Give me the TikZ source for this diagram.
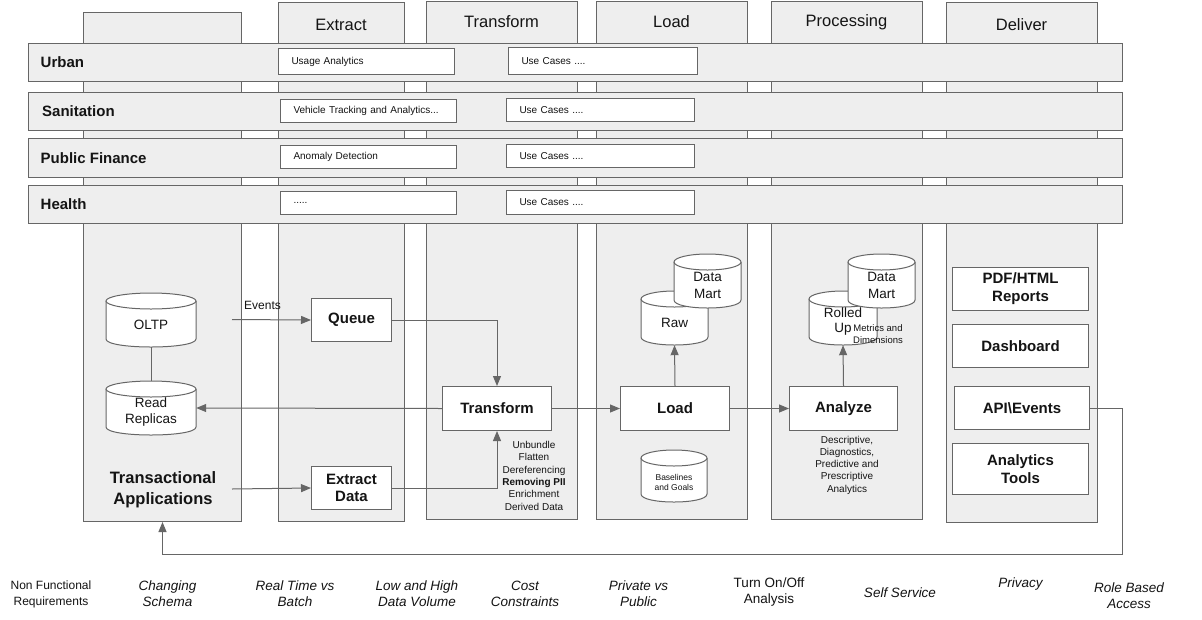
\documentclass[tikz,border=0pt]{standalone}
\usepackage{fontspec}
\setmainfont{Liberation Sans}
\usetikzlibrary{arrows.meta}
\definecolor{lineC}{RGB}{102,102,102}
\definecolor{fillC}{RGB}{238,238,238}
\definecolor{txtC}{RGB}{20,20,20}
\newcommand\fsz[2]{\fontsize{#1}{#2}\selectfont}
% cylinder: name, x1, y1, x2, y2
\newcommand\dbcyl[5]{%
  \pgfmathsetmacro\cyx{(#2+#4)/2}%
  \pgfmathsetmacro\cyy{(#3+#5)/2}%
  \pgfmathsetmacro\cyw{#4-#2}%
  \pgfmathsetmacro\cyh{#5-#3}%
  \pgfmathsetmacro\cyr{(#4-#2)/2}%
  \path[fill=white] (#2,#3+8) -- (#2,#5-8) .. controls (#2,#5+2.67) and (#4,#5+2.67) .. (#4,#5-8) -- (#4,#3+8) -- cycle;
  \node[cylnode, minimum width=\cyw pt, minimum height=\cyh pt] (#1) at (\cyx,\cyy) {};
  \draw[line width=1pt, draw=lineC] (#2,#3+8) -- (#2,#5-8) .. controls (#2,#5+2.67) and (#4,#5+2.67) .. (#4,#5-8) -- (#4,#3+8);
  \draw[line width=1pt, draw=lineC, fill=white] (\cyx,#3+8) ellipse [x radius=\cyr pt, y radius=8pt];
}
\begin{document}
\begin{tikzpicture}[x=1pt,y=-1pt,
  colbox/.style={draw=lineC, fill=fillC, line width=1pt, anchor=north west, inner sep=0pt},
  rowbox/.style={draw=lineC, fill=fillC, line width=1pt, anchor=north west, inner sep=0pt},
  hdr/.style={text=txtC, font=\fsz{16.5}{20}},
  rowlbl/.style={text=txtC, font=\fsz{15}{18}\bfseries, anchor=west, inner sep=0pt},
  ubox/.style={draw=lineC, fill=white, line width=1pt, anchor=north west, inner xsep=13pt, inner ysep=0pt, align=left, text=txtC, font=\fsz{10}{12}},
  proc/.style={draw=lineC, fill=white, line width=1pt, anchor=north west, inner sep=0pt, align=center, text=txtC, font=\fsz{15}{17.5}\bfseries},
  cylnode/.style={draw=none, inner sep=0pt},
  cyltxt/.style={text=txtC, font=\fsz{13.5}{16}, align=center, inner sep=0pt},
  note/.style={text=txtC, font=\fsz{10}{12.3}, align=center, inner sep=0pt},
  nfr/.style={text=txtC, font=\fsz{13.5}{16}\itshape, align=center, inner sep=0pt},
  arr/.style={draw=lineC, line width=1pt, -{Triangle[length=10pt,width=8pt]}},
  ln/.style={draw=lineC, line width=1pt}
]
\useasboundingbox (0,0) rectangle (1202,619);
\fill[white] (0,0) rectangle (1202,619);

% columns
\node[colbox, minimum width=158pt, minimum height=509pt] (col0) at (83,12) {};
\node[colbox, minimum width=126pt, minimum height=519pt] (colext) at (278,2) {};
\node[colbox, minimum width=151pt, minimum height=518.5pt] (coltr) at (426,0.5) {};
\node[colbox, minimum width=151pt, minimum height=518.5pt] (colld) at (596,0.5) {};
\node[colbox, minimum width=151pt, minimum height=518.5pt] (colpr) at (771,0.5) {};
\node[colbox, minimum width=151pt, minimum height=520pt] (coldl) at (946,2) {};
\node[hdr] (hext) at (341,25) {Extract};
\node[hdr] (htr) at (501.5,22) {Transform};
\node[hdr] (hld) at (671.5,22) {Load};
\node[hdr] (hpr) at (846.5,22) {Processing};
\node[hdr] (hdl) at (1021.5,25) {Deliver};

% rows
\node[rowbox, minimum width=1094pt, minimum height=38pt] (rurb) at (28,43) {};
\node[rowbox, minimum width=1094pt, minimum height=38pt] (rsan) at (28,92) {};
\node[rowbox, minimum width=1094pt, minimum height=39pt] (rpf) at (28,138) {};
\node[rowbox, minimum width=1094pt, minimum height=38pt] (rhl) at (28,185) {};
\node[rowlbl] (lurb) at (40.5,62) {Urban};
\node[rowlbl] (lsan) at (42,111) {Sanitation};
\node[rowlbl] (lpf) at (40.5,158) {Public Finance};
\node[rowlbl] (lhl) at (40.5,204) {Health};

\node[ubox, minimum width=176pt, minimum height=26pt, text width=150pt] (u1) at (278,48) {Usage Analytics};
\node[ubox, minimum width=176pt, minimum height=23pt, text width=150pt] (u2) at (280,99) {Vehicle Tracking and Analytics...};
\node[ubox, minimum width=176pt, minimum height=23pt, text width=150pt] (u3) at (280,145) {Anomaly Detection};
\node[ubox, minimum width=176pt, minimum height=23pt, text width=150pt] (u4) at (280,191) {.....};
\node[ubox, minimum width=189pt, minimum height=27pt, text width=163pt] (c1) at (508,47) {Use Cases ....};
\node[ubox, minimum width=188pt, minimum height=23pt, text width=162pt] (c2) at (506,98) {Use Cases ....};
\node[ubox, minimum width=188pt, minimum height=23pt, text width=162pt] (c3) at (506,144) {Use Cases ....};
\node[ubox, minimum width=188pt, minimum height=24pt, text width=162pt] (c4) at (506,190) {Use Cases ....};

% cylinders
\dbcyl{oltp}{106}{293}{196}{347}
\dbcyl{rr}{106}{381}{196}{435}
\dbcyl{raw}{641}{291}{708}{345}
\dbcyl{dm1}{674}{254}{741}{308}
\dbcyl{bg}{641}{450}{707}{502}
\dbcyl{ru}{809}{291}{877}{345}
\dbcyl{dm2}{848}{254}{915}{308}
\node[cyltxt] (oltpt) at (151,325) {OLTP};
\node[cyltxt] (rrt) at (151,412) {Read\\Replicas};
\node[cyltxt] (rawt) at (674.5,323) {Raw};
\node[cyltxt, font=\fsz{13.5}{16.7}] (dm1t) at (707.5,285.5) {Data\\Mart};
\node[cyltxt, font=\fsz{8.5}{10}] (bgt) at (674,482) {Baselines\\and Goals};
\node[cyltxt, font=\fsz{13.5}{15.5}] (rut) at (843,321.5) {Rolled\\Up};
\node[cyltxt, font=\fsz{13.5}{16.7}] (dm2t) at (881.5,285.5) {Data\\Mart};
\node[note, font=\fsz{9.5}{12}] (metr) at (878,334) {Metrics and\\Dimensions};

% process boxes
\node[proc, minimum width=80pt, minimum height=43pt] (queue) at (311,298) {Queue};
\node[proc, minimum width=80pt, minimum height=43pt] (exd) at (311,466) {Extract\\Data};
\node[proc, minimum width=109pt, minimum height=44pt] (trans) at (442,386) {Transform};
\node[proc, minimum width=109pt, minimum height=44pt] (load) at (620,386) {Load};
\node[proc, minimum width=108pt, minimum height=44pt] (anlz) at (789,386) {Analyze};
\node[proc, minimum width=136pt, minimum height=43pt, font=\fsz{15}{18}\bfseries] (pdf) at (952,267) {PDF/HTML\\Reports};
\node[proc, minimum width=136pt, minimum height=43pt] (dash) at (952,324) {Dashboard};
\node[proc, minimum width=135pt, minimum height=43pt] (api) at (954,386) {API\textbackslash Events};
\node[proc, minimum width=136pt, minimum height=51pt, font=\fsz{15}{17.5}\bfseries] (atools) at (952,443) {Analytics\\Tools};

\node[text=txtC, font=\fsz{16.5}{20.7}\bfseries, align=center, inner sep=0pt] (tapp) at (163,490) {Transactional\\Applications};
\node[note, font=\fsz{12}{14}] (evl) at (262.5,305) {Events};
\node[note] (trnote) at (534,475.7) {Unbundle\\Flatten\\Dereferencing\\\textbf{Removing PII}\\Enrichment\\Derived Data};
\node[note, font=\fsz{10}{12.2}] (annote) at (847,465.2) {Descriptive,\\Diagnostics,\\Predictive and\\Prescriptive\\Analytics};

% connectors
\coordinate (evs) at (232,319.5);
\coordinate (tas) at (232,489);
\coordinate (fb) at (1122,554);
\draw[ln] (oltp.south) -- (rr.north);
\draw[arr] (evs) -- (queue.west);
\draw[arr] (tas) -- (exd.west);
\draw[arr] (queue.east) -| (trans.north);
\draw[arr] (exd.east) -| (trans.south);
\draw[arr] (trans.west) -- (rr.east);
\draw[arr] (trans.east) -- (load.west);
\draw[arr] (load.north) -- (raw.south);
\draw[arr] (load.east) -- (anlz.west);
\draw[arr] (anlz.north) -- (ru.south);
\draw[arr] (api.east) -| (fb) -| (col0.south);

% non functional requirements
\node[text=txtC, font=\fsz{12}{16}, align=center, inner sep=0pt] (nf0) at (51,594) {Non Functional\\Requirements};
\node[nfr] (nf1) at (167.5,594) {Changing\\Schema};
\node[nfr] (nf2) at (295,594) {Real Time vs\\Batch};
\node[nfr] (nf3) at (417,594) {Low and High\\Data Volume};
\node[nfr] (nf4) at (525,594) {Cost\\Constraints};
\node[nfr] (nf5) at (638.5,594) {Private vs\\Public};
\node[nfr, font=\fsz{13.5}{16}] (nf6) at (769,592) {Turn On/Off\\Analysis};
\node[nfr] (nf7) at (900,593) {Self Service};
\node[nfr] (nf8) at (1020.5,584) {Privacy};
\node[nfr] (nf9) at (1129,595.5) {Role Based\\Access};
\end{tikzpicture}
\end{document}
